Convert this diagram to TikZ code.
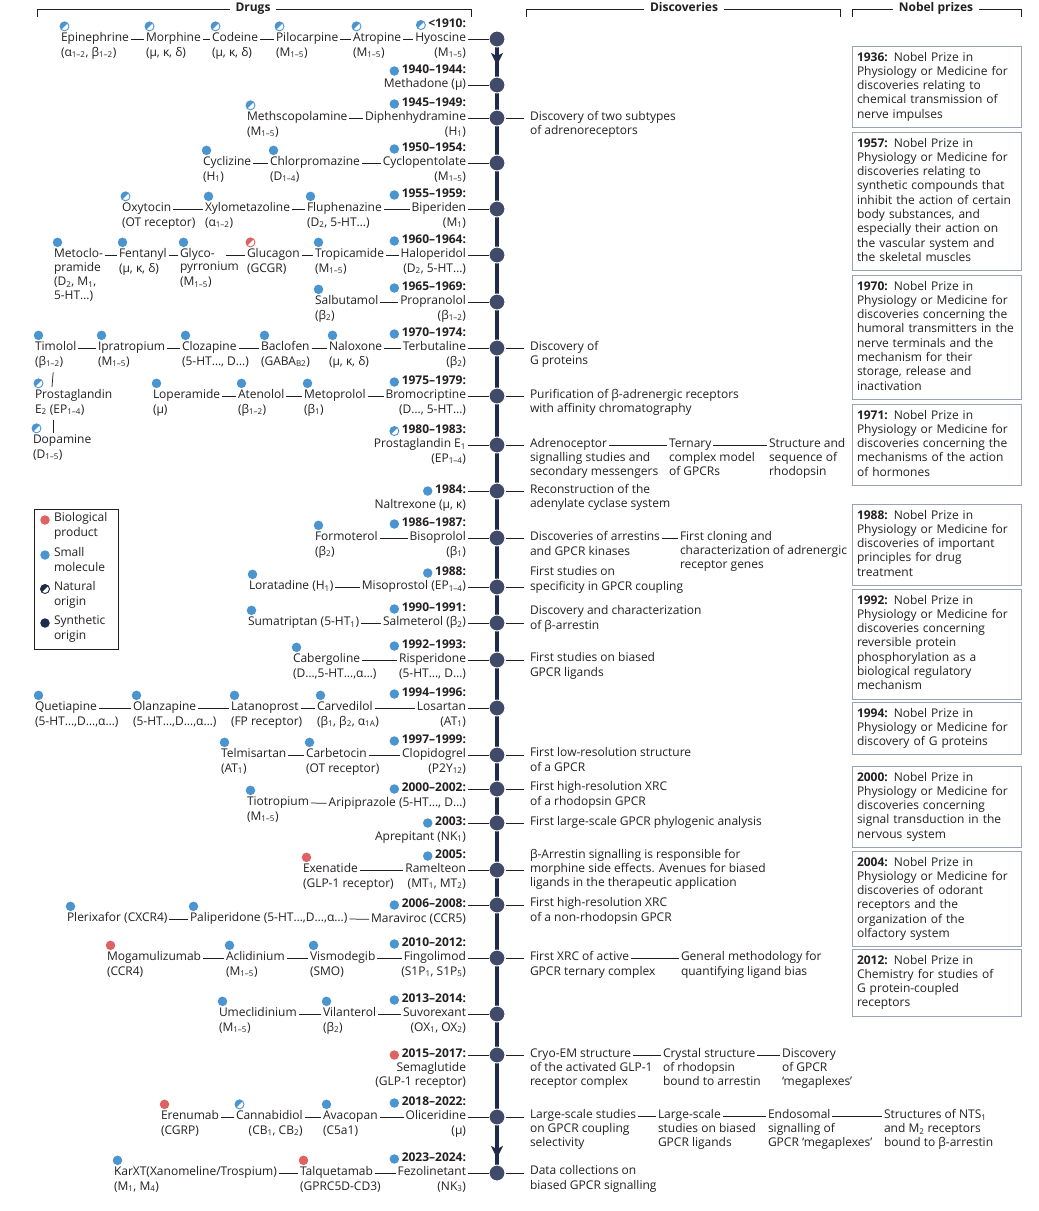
\documentclass[tikz,border=0pt]{standalone}
\usepackage{fontspec}
\setmainfont{Open Sans}
\usepackage{tikz}
\usetikzlibrary{arrows.meta,positioning,calc,backgrounds}
\definecolor{Ink}{HTML}{231F20}
\definecolor{Navy}{HTML}{1E2B4A}
\definecolor{EraDot}{HTML}{3F4B68}
\definecolor{SmallBlue}{HTML}{4A94D0}
\definecolor{BioRed}{HTML}{DE6262}
\definecolor{BoxLine}{HTML}{9AA3B4}
\newcommand{\figfont}{\fontsize{12}{14.3}\selectfont}
\newcommand{\rsub}[1]{\textsubscript{#1}}
\tikzset{
  txt/.style={font=\figfont,text=Ink,inner sep=0pt,outer sep=0pt,execute at begin node=\strut,execute at end node=\strut},
  drug/.style={txt,anchor=west},
  maindrug/.style={txt,anchor=east},
  rec/.style={txt,anchor=north west,align=left},
  recr/.style={txt,anchor=north east,align=right},
  yr/.style={txt,font=\figfont\bfseries,anchor=east},
  disc/.style={txt,align=left,anchor=north west,yshift=7.15pt},
  head/.style={txt,font=\figfont\bfseries,inner xsep=6pt},
  sm/.style={circle,fill=SmallBlue,minimum size=9.5pt,inner sep=0pt},
  bio/.style={circle,fill=BioRed,minimum size=9.5pt,inner sep=0pt},
  syn/.style={circle,fill=Navy,minimum size=9.5pt,inner sep=0pt},
  nat/.style={circle,draw=#1,fill=white,line width=0.9pt,minimum size=9pt,inner sep=0pt,
    path picture={\fill[#1] (path picture bounding box.south west) -- (path picture bounding box.north west) -- (path picture bounding box.north east) -- cycle;}},
  nat/.default=SmallBlue,
  era/.style={circle,fill=EraDot,draw=white,line width=1pt,minimum size=16pt,inner sep=0pt},
  link/.style={draw=Ink,line width=0.75pt,shorten <=2pt,shorten >=2pt},
  tolink/.style={draw=Ink,line width=0.75pt,shorten <=2pt},
  fromlink/.style={draw=Ink,line width=0.75pt,shorten >=6pt},
  vlink/.style={draw=Ink,line width=0.75pt,shorten <=3pt},
  timeline/.style={draw=Navy,line width=4pt},
  tip/.style={timeline,-{Stealth[length=12pt,width=12pt,inset=3pt]}},
  nobel/.style={txt,draw=BoxLine,line width=1pt,align=left,text width=159pt,inner xsep=5pt,inner ysep=5pt,anchor=north west},
  bracket/.style={draw=Ink,line width=0.8pt}
}

\begin{document}
\begin{tikzpicture}[x=1pt,y=-1pt]
\useasboundingbox (0,0) rectangle (1039,1211);

\node[head] (hDrugs) at (253,9) {Drugs};
\node[head] (hDisc) at (684,9) {Discoveries};
\node[head] (hNobel) at (936,9) {Nobel prizes};
\draw[bracket] (hDrugs.west) -| (37,17);\draw[bracket] (hDrugs.east) -| (471,17);
\draw[bracket] (hDisc.west) -| (526,17);\draw[bracket] (hDisc.east) -| (840,17);
\draw[bracket] (hNobel.west) -| (852,17);\draw[bracket] (hNobel.east) -| (1021,17);

\node[era] (e1910) at (497,39) {};
\node[era] (e1940) at (497,85) {};
\node[era] (e1945) at (497,118) {};
\node[era] (e1950) at (497,163) {};
\node[era] (e1955) at (497,209) {};
\node[era] (e1960) at (497,255) {};
\node[era] (e1965) at (497,302) {};
\node[era] (e1970) at (497,348) {};
\node[era] (e1975) at (497,396) {};
\node[era] (e1980) at (497,445) {};
\node[era] (e1984) at (497,491) {};
\node[era] (e1986) at (497,538) {};
\node[era] (e1988) at (497,587) {};
\node[era] (e1990) at (497,623) {};
\node[era] (e1992) at (497,660) {};
\node[era] (e1994) at (497,708) {};
\node[era] (e1997) at (497,755) {};
\node[era] (e2000) at (497,789) {};
\node[era] (e2003) at (497,823) {};
\node[era] (e2005) at (497,870) {};
\node[era] (e2006) at (497,905) {};
\node[era] (e2010) at (497,958) {};
\node[era] (e2013) at (497,1014) {};
\node[era] (e2015) at (497,1055) {};
\node[era] (e2018) at (497,1117) {};
\node[era] (e2023) at (497,1173) {};
\coordinate (tipTop) at (497,65);
\coordinate (tipBot) at (497,1158);
\begin{scope}[on background layer]
\draw[timeline] (e1910.center) -- (e2023.center);
\draw[tip] (e1910.center) -- (tipTop);
\draw[tip] (e2018.center) -- (tipBot);
\end{scope}

\node[yr] (y1910) at (466,25) {<1910:};
\node[nat,left=2.5pt of y1910] (y1910i) {};
\node[maindrug] (hyo) at (466,39) {Hyoscine};
\node[recr] (hyoR) at (hyo.south east) {(M\rsub{1–5})};
\node[drug] (epi) at (61,39) {Epinephrine};
\node[rec] (epiR) at (epi.south west) {(α\rsub{1–2}, β\rsub{1–2})};
\node[nat,above=2pt of epi.north west,anchor=south west] (epiI) {};
\node[drug] (mor) at (146,39) {Morphine};
\node[rec] (morR) at (mor.south west) {(μ, κ, δ)};
\node[nat,above=2pt of mor.north west,anchor=south west] (morI) {};
\node[drug] (cod) at (212,39) {Codeine};
\node[rec] (codR) at (cod.south west) {(μ, κ, δ)};
\node[nat,above=2pt of cod.north west,anchor=south west] (codI) {};
\node[drug] (pilo) at (276,39) {Pilocarpine};
\node[rec] (piloR) at (pilo.south west) {(M\rsub{1–5})};
\node[nat,above=2pt of pilo.north west,anchor=south west] (piloI) {};
\node[drug] (atro) at (353,39) {Atropine};
\node[rec] (atroR) at (atro.south west) {(M\rsub{1–5})};
\node[nat,above=2pt of atro.north west,anchor=south west] (atroI) {};
\draw[link] (epi.east) -- (mor.west);\draw[link] (mor.east) -- (cod.west);\draw[link] (cod.east) -- (pilo.west);
\draw[link] (pilo.east) -- (atro.west);\draw[link] (atro.east) -- (hyo.west);\draw[tolink] (hyo.east) -- (e1910.west);

\node[yr] (y1940) at (466,71) {1940–1944:};
\node[sm,left=2.5pt of y1940] (y1940i) {};
\node[maindrug] (metha) at (466,85) {Methadone (μ)};
\draw[tolink] (metha.east) -- (e1940.west);

\node[yr] (y1945) at (466,104) {1945–1949:};
\node[sm,left=2.5pt of y1945] (y1945i) {};
\node[maindrug] (diph) at (466,118) {Diphenhydramine};
\node[recr] (diphR) at (diph.south east) {(H\rsub{1})};
\node[drug] (meths) at (247,118) {Methscopolamine};
\node[rec] (methsR) at (meths.south west) {(M\rsub{1–5})};
\node[nat,above=2pt of meths.north west,anchor=south west] (methsI) {};
\draw[link] (meths.east) -- (diph.west);\draw[tolink] (diph.east) -- (e1945.west);

\node[yr] (y1950) at (466,149) {1950–1954:};
\node[sm,left=2.5pt of y1950] (y1950i) {};
\node[maindrug] (cyclo) at (466,163) {Cyclopentolate};
\node[recr] (cycloR) at (cyclo.south east) {(M\rsub{1–5})};
\node[drug] (cycli) at (203,163) {Cyclizine};
\node[rec] (cycliR) at (cycli.south west) {(H\rsub{1})};
\node[sm,above=2pt of cycli.north west,anchor=south west] (cycliI) {};
\node[drug] (chlor) at (270,163) {Chlorpromazine};
\node[rec] (chlorR) at (chlor.south west) {(D\rsub{1–4})};
\node[sm,above=2pt of chlor.north west,anchor=south west] (chlorI) {};
\draw[link] (cycli.east) -- (chlor.west);\draw[link] (chlor.east) -- (cyclo.west);\draw[tolink] (cyclo.east) -- (e1950.west);

\node[yr] (y1955) at (466,195) {1955–1959:};
\node[sm,left=2.5pt of y1955] (y1955i) {};
\node[maindrug] (bip) at (466,209) {Biperiden};
\node[recr] (bipR) at (bip.south east) {(M\rsub{1})};
\node[drug] (oxy) at (122,209) {Oxytocin};
\node[rec] (oxyR) at (oxy.south west) {(OT receptor)};
\node[nat,above=2pt of oxy.north west,anchor=south west] (oxyI) {};
\node[drug] (xylo) at (205,209) {Xylometazoline};
\node[rec] (xyloR) at (xylo.south west) {(α\rsub{1–2})};
\node[sm,above=2pt of xylo.north west,anchor=south west] (xyloI) {};
\node[drug] (flu) at (307,209) {Fluphenazine};
\node[rec] (fluR) at (flu.south west) {(D\rsub{2}, 5-HT…)};
\node[sm,above=2pt of flu.north west,anchor=south west] (fluI) {};
\draw[link] (oxy.east) -- (xylo.west);\draw[link] (xylo.east) -- (flu.west);\draw[link] (flu.east) -- (bip.west);\draw[tolink] (bip.east) -- (e1955.west);

\node[yr] (y1960) at (466,241) {1960–1964:};
\node[sm,left=2.5pt of y1960] (y1960i) {};
\node[maindrug] (halo) at (466,255) {Haloperidol};
\node[recr] (haloR) at (halo.south east) {(D\rsub{2}, 5-HT…)};
\node[drug] (meto) at (54,255) {Metoclo-};
\node[rec] (metoR) at (meto.south west) {pramide\\(D\rsub{2}, M\rsub{1},\\5-HT…)};
\node[sm,above=2pt of meto.north west,anchor=south west] (metoI) {};
\node[drug] (fent) at (119,255) {Fentanyl};
\node[rec] (fentR) at (fent.south west) {(μ, κ, δ)};
\node[sm,above=2pt of fent.north west,anchor=south west] (fentI) {};
\node[drug] (glyco) at (180,255) {Glyco-};
\node[rec] (glycoR) at (glyco.south west) {pyrronium\\(M\rsub{1–5})};
\node[sm,above=2pt of glyco.north west,anchor=south west] (glycoI) {};
\node[drug] (gluc) at (247,255) {Glucagon};
\node[rec] (glucR) at (gluc.south west) {(GCGR)};
\node[nat=BioRed,above=2pt of gluc.north west,anchor=south west] (glucI) {};
\node[drug] (trop) at (315,255) {Tropicamide};
\node[rec] (tropR) at (trop.south west) {(M\rsub{1–5})};
\node[sm,above=2pt of trop.north west,anchor=south west] (tropI) {};
\draw[link] (meto.east) -- (fent.west);\draw[link] (fent.east) -- (glyco.west);\draw[link] ([xshift=9pt]glyco.east) -- (gluc.west);
\draw[link] (gluc.east) -- (trop.west);\draw[link] (trop.east) -- (halo.west);\draw[tolink] (halo.east) -- (e1960.west);

\node[yr] (y1965) at (466,288) {1965–1969:};
\node[sm,left=2.5pt of y1965] (y1965i) {};
\node[maindrug] (prop) at (466,302) {Propranolol};
\node[recr] (propR) at (prop.south east) {(β\rsub{1–2})};
\node[drug] (salb) at (315,302) {Salbutamol};
\node[rec] (salbR) at (salb.south west) {(β\rsub{2})};
\node[sm,above=2pt of salb.north west,anchor=south west] (salbI) {};
\draw[link] (salb.east) -- (prop.west);\draw[tolink] (prop.east) -- (e1965.west);

\node[yr] (y1970) at (466,334) {1970–1974:};
\node[sm,left=2.5pt of y1970] (y1970i) {};
\node[maindrug] (terb) at (466,348) {Terbutaline};
\node[recr] (terbR) at (terb.south east) {(β\rsub{2})};
\node[drug] (tim) at (35,348) {Timolol};
\node[rec] (timR) at (tim.south west) {(β\rsub{1–2})};
\node[sm,above=2pt of tim.north west,anchor=south west] (timI) {};
\node[drug] (ipra) at (98,348) {Ipratropium};
\node[rec] (ipraR) at (ipra.south west) {(M\rsub{1–5})};
\node[sm,above=2pt of ipra.north west,anchor=south west] (ipraI) {};
\node[drug] (cloz) at (182,348) {Clozapine};
\node[rec] (clozR) at (cloz.south west) {(5-HT…, D…)};
\node[sm,above=2pt of cloz.north west,anchor=south west] (clozI) {};
\node[drug] (bac) at (261,348) {Baclofen};
\node[rec] (bacR) at (bac.south west) {(GABA\rsub{B2})};
\node[sm,above=2pt of bac.north west,anchor=south west] (bacI) {};
\node[drug] (nal) at (329,348) {Naloxone};
\node[rec] (nalR) at (nal.south west) {(μ, κ, δ)};
\node[sm,above=2pt of nal.north west,anchor=south west] (nalI) {};
\draw[link] (tim.east) -- (ipra.west);\draw[link] (ipra.east) -- (cloz.west);\draw[link] (cloz.east) -- (bac.west);
\draw[link] (bac.east) -- (nal.west);\draw[link] (nal.east) -- (terb.west);\draw[tolink] (terb.east) -- (e1970.west);

\node[yr] (y1975) at (466,382) {1975–1979:};
\node[sm,left=2.5pt of y1975] (y1975i) {};
\node[maindrug] (bromo) at (466,396) {Bromocriptine};
\node[recr] (bromoR) at (bromo.south east) {(D…, 5-HT…)};
\node[drug] (pge2) at (35,396) {Prostaglandin};
\node[rec] (pge2R) at (pge2.south west) {E\rsub{2} (EP\rsub{1–4})};
\node[nat,above=2pt of pge2.north west,anchor=south west] (pge2I) {};
\node[drug] (lop) at (153,396) {Loperamide};
\node[rec] (lopR) at (lop.south west) {(μ)};
\node[sm,above=2pt of lop.north west,anchor=south west] (lopI) {};
\node[drug] (aten) at (238,396) {Atenolol};
\node[rec] (atenR) at (aten.south west) {(β\rsub{1–2})};
\node[sm,above=2pt of aten.north west,anchor=south west] (atenI) {};
\node[drug] (metop) at (304,396) {Metoprolol};
\node[rec] (metopR) at (metop.south west) {(β\rsub{1})};
\node[sm,above=2pt of metop.north west,anchor=south west] (metopI) {};
\draw[link] (lop.east) -- (aten.west);\draw[link] (aten.east) -- (metop.west);\draw[link] (metop.east) -- (bromo.west);\draw[tolink] (bromo.east) -- (e1975.west);
\node[drug] (dopa) at (33,441) {Dopamine};
\node[rec] (dopaR) at (dopa.south west) {(D\rsub{1–5})};
\node[nat,above=2pt of dopa.north west,anchor=south west] (dopaI) {};
\draw[vlink] ([xshift=10pt]pge2I.east |- timR.south) -- ([xshift=10pt]pge2I.south east);
\draw[vlink] ([xshift=10pt]pge2I.east |- pge2R.south) -- ([xshift=10pt]pge2I.east |- dopaI.south);

\node[yr] (y1980) at (466,431) {1980–1983:};
\node[nat,left=2.5pt of y1980] (y1980i) {};
\node[maindrug] (pge1) at (466,445) {Prostaglandin E\rsub{1}};
\node[recr] (pge1R) at (pge1.south east) {(EP\rsub{1–4})};
\draw[tolink] (pge1.east) -- (e1980.west);

\node[yr] (y1984) at (466,491) {1984:};
\node[sm,left=2.5pt of y1984] (y1984i) {};
\node[recr] (nalt) at (y1984.south east) {Naltrexone (μ, κ)};
\draw[tolink] (y1984.east) -- (e1984.west);

\node[yr] (y1986) at (466,524) {1986–1987:};
\node[sm,left=2.5pt of y1986] (y1986i) {};
\node[maindrug] (biso) at (466,538) {Bisoprolol};
\node[recr] (bisoR) at (biso.south east) {(β\rsub{1})};
\node[drug] (form) at (315,538) {Formoterol};
\node[rec] (formR) at (form.south west) {(β\rsub{2})};
\node[sm,above=2pt of form.north west,anchor=south west] (formI) {};
\draw[link] (form.east) -- (biso.west);\draw[tolink] (biso.east) -- (e1986.west);

\node[yr] (y1988) at (466,573) {1988:};
\node[sm,left=2.5pt of y1988] (y1988i) {};
\node[maindrug] (miso) at (466,587) {Misoprostol (EP\rsub{1–4})};
\node[drug] (lora) at (249,587) {Loratadine (H\rsub{1})};
\node[sm,above=2pt of lora.north west,anchor=south west] (loraI) {};
\draw[link] (lora.east) -- (miso.west);\draw[tolink] (miso.east) -- (e1988.west);

\node[yr] (y1990) at (466,609) {1990–1991:};
\node[sm,left=2.5pt of y1990] (y1990i) {};
\node[maindrug] (salm) at (466,623) {Salmeterol (β\rsub{2})};
\node[drug] (suma) at (248,623) {Sumatriptan (5-HT\rsub{1})};
\node[sm,above=2pt of suma.north west,anchor=south west] (sumaI) {};
\draw[link] (suma.east) -- (salm.west);\draw[tolink] (salm.east) -- (e1990.west);

\node[yr] (y1992) at (466,646) {1992–1993:};
\node[sm,left=2.5pt of y1992] (y1992i) {};
\node[maindrug] (risp) at (466,660) {Risperidone};
\node[recr] (rispR) at (risp.south east) {(5-HT…, D…)};
\node[drug] (cab) at (293,660) {Cabergoline};
\node[rec] (cabR) at (cab.south west) {(D…,5-HT…,α…)};
\node[sm,above=2pt of cab.north west,anchor=south west] (cabI) {};
\draw[link] (cab.east) -- (risp.west);\draw[tolink] (risp.east) -- (e1992.west);

\node[yr] (y1994) at (466,694) {1994–1996:};
\node[sm,left=2.5pt of y1994] (y1994i) {};
\node[maindrug] (los) at (466,708) {Losartan};
\node[recr] (losR) at (los.south east) {(AT\rsub{1})};
\node[drug] (quet) at (35,708) {Quetiapine};
\node[rec] (quetR) at (quet.south west) {(5-HT…,D…,α…)};
\node[sm,above=2pt of quet.north west,anchor=south west] (quetI) {};
\node[drug] (olan) at (133,708) {Olanzapine};
\node[rec] (olanR) at (olan.south west) {(5-HT…,D…,α…)};
\node[sm,above=2pt of olan.north west,anchor=south west] (olanI) {};
\node[drug] (lat) at (231,708) {Latanoprost};
\node[rec] (latR) at (lat.south west) {(FP receptor)};
\node[sm,above=2pt of lat.north west,anchor=south west] (latI) {};
\node[drug] (carv) at (317,708) {Carvedilol};
\node[rec] (carvR) at (carv.south west) {(β\rsub{1}, β\rsub{2}, α\rsub{1A})};
\node[sm,above=2pt of carv.north west,anchor=south west] (carvI) {};
\draw[link] (quet.east) -- (olan.west);\draw[link] (olan.east) -- (lat.west);\draw[link] (lat.east) -- (carv.west);
\draw[link] (carv.east) -- (los.west);\draw[tolink] (los.east) -- (e1994.west);

\node[yr] (y1997) at (466,741) {1997–1999:};
\node[sm,left=2.5pt of y1997] (y1997i) {};
\node[maindrug] (clop) at (466,755) {Clopidogrel};
\node[recr] (clopR) at (clop.south east) {(P2Y\rsub{12})};
\node[drug] (telm) at (221,755) {Telmisartan};
\node[rec] (telmR) at (telm.south west) {(AT\rsub{1})};
\node[sm,above=2pt of telm.north west,anchor=south west] (telmI) {};
\node[drug] (carb) at (306,755) {Carbetocin};
\node[rec] (carbR) at (carb.south west) {(OT receptor)};
\node[sm,above=2pt of carb.north west,anchor=south west] (carbI) {};
\draw[link] (telm.east) -- (carb.west);\draw[link] (carb.east) -- (clop.west);\draw[tolink] (clop.east) -- (e1997.west);

\node[yr] (y2000) at (466,789) {2000–2002:};
\node[sm,left=2.5pt of y2000] (y2000i) {};
\node[recr] (ari) at (y2000.south east) {Aripiprazole (5-HT…, D…)};
\node[drug] (tio) at (247,803) {Tiotropium};
\node[rec] (tioR) at (tio.south west) {(M\rsub{1–5})};
\node[sm,above=2pt of tio.north west,anchor=south west] (tioI) {};
\draw[link] (tio.east) -- (ari.west);\draw[tolink] (y2000.east) -- (e2000.west);

\node[yr] (y2003) at (466,823) {2003:};
\node[sm,left=2.5pt of y2003] (y2003i) {};
\node[recr] (apre) at (y2003.south east) {Aprepitant (NK\rsub{1})};
\draw[tolink] (y2003.east) -- (e2003.west);

\node[yr] (y2005) at (466,856) {2005:};
\node[sm,left=2.5pt of y2005] (y2005i) {};
\node[maindrug] (ram) at (466,870) {Ramelteon};
\node[recr] (ramR) at (ram.south east) {(MT\rsub{1}, MT\rsub{2})};
\node[drug] (exe) at (303,870) {Exenatide};
\node[rec] (exeR) at (exe.south west) {(GLP-1 receptor)};
\node[bio,above=2pt of exe.north west,anchor=south west] (exeI) {};
\draw[link] (exe.east) -- (ram.west);\draw[tolink] (ram.east) -- (e2005.west);

\node[yr] (y2006) at (466,905) {2006–2008:};
\node[sm,left=2.5pt of y2006] (y2006i) {};
\node[recr] (mara) at (y2006.south east) {Maraviroc (CCR5)};
\node[drug] (pler) at (67,919) {Plerixafor (CXCR4)};
\node[sm,above=2pt of pler.north west,anchor=south west] (plerI) {};
\node[drug] (pali) at (190,919) {Paliperidone (5-HT…,D…,α…)};
\node[sm,above=2pt of pali.north west,anchor=south west] (paliI) {};
\draw[link] (pler.east) -- (pali.west);\draw[link] (pali.east) -- (mara.west);\draw[tolink] (y2006.east) -- (e2006.west);

\node[yr] (y2010) at (466,944) {2010–2012:};
\node[sm,left=2.5pt of y2010] (y2010i) {};
\node[maindrug] (fing) at (466,958) {Fingolimod};
\node[recr] (fingR) at (fing.south east) {(S1P\rsub{1}, S1P\rsub{5})};
\node[drug] (mog) at (107,958) {Mogamulizumab};
\node[rec] (mogR) at (mog.south west) {(CCR4)};
\node[bio,above=2pt of mog.north west,anchor=south west] (mogI) {};
\node[drug] (acl) at (226,958) {Aclidinium};
\node[rec] (aclR) at (acl.south west) {(M\rsub{1–5})};
\node[sm,above=2pt of acl.north west,anchor=south west] (aclI) {};
\node[drug] (vis) at (310,958) {Vismodegib};
\node[rec] (visR) at (vis.south west) {(SMO)};
\node[sm,above=2pt of vis.north west,anchor=south west] (visI) {};
\draw[link] (mog.east) -- (acl.west);\draw[link] (acl.east) -- (vis.west);\draw[link] (vis.east) -- (fing.west);\draw[tolink] (fing.east) -- (e2010.west);

\node[yr] (y2013) at (466,1000) {2013–2014:};
\node[sm,left=2.5pt of y2013] (y2013i) {};
\node[maindrug] (suv) at (466,1014) {Suvorexant};
\node[recr] (suvR) at (suv.south east) {(OX\rsub{1}, OX\rsub{2})};
\node[drug] (ume) at (219,1014) {Umeclidinium};
\node[rec] (umeR) at (ume.south west) {(M\rsub{1–5})};
\node[sm,above=2pt of ume.north west,anchor=south west] (umeI) {};
\node[drug] (vil) at (323,1014) {Vilanterol};
\node[rec] (vilR) at (vil.south west) {(β\rsub{2})};
\node[sm,above=2pt of vil.north west,anchor=south west] (vilI) {};
\draw[link] (ume.east) -- (vil.west);\draw[link] (vil.east) -- (suv.west);\draw[tolink] (suv.east) -- (e2013.west);

\node[yr] (y2015) at (466,1055) {2015–2017:};
\node[bio,left=2.5pt of y2015] (y2015i) {};
\node[recr] (sema) at (y2015.south east) {Semaglutide\\(GLP-1 receptor)};
\draw[tolink] (y2015.east) -- (e2015.west);

\node[yr] (y2018) at (466,1103) {2018–2022:};
\node[sm,left=2.5pt of y2018] (y2018i) {};
\node[maindrug] (oli) at (466,1117) {Oliceridine};
\node[recr] (oliR) at (oli.south east) {(μ)};
\node[drug] (ere) at (161,1117) {Erenumab};
\node[rec] (ereR) at (ere.south west) {(CGRP)};
\node[bio,above=2pt of ere.north west,anchor=south west] (ereI) {};
\node[drug] (can) at (236,1117) {Cannabidiol};
\node[recr] (canR) at (can.south east) {(CB\rsub{1}, CB\rsub{2})};
\node[nat,above=2pt of can.north west,anchor=south west] (canI) {};
\node[drug] (ava) at (323,1117) {Avacopan};
\node[rec] (avaR) at (ava.south west) {(C5a1)};
\node[sm,above=2pt of ava.north west,anchor=south west] (avaI) {};
\draw[link] (ere.east) -- (can.west);\draw[link] (can.east) -- (ava.west);\draw[link] (ava.east) -- (oli.west);\draw[tolink] (oli.east) -- (e2018.west);

\node[yr] (y2023) at (466,1159) {2023–2024:};
\node[sm,left=2.5pt of y2023] (y2023i) {};
\node[maindrug] (fez) at (466,1173) {Fezolinetant};
\node[recr] (fezR) at (fez.south east) {(NK\rsub{3})};
\node[drug] (kar) at (114,1173) {KarXT(Xanomeline/Trospium)};
\node[rec] (karR) at (kar.south west) {(M\rsub{1}, M\rsub{4})};
\node[sm,above=2pt of kar.north west,anchor=south west] (karI) {};
\node[drug] (tal) at (300,1173) {Talquetamab};
\node[rec] (talR) at (tal.south west) {(GPRC5D-CD3)};
\node[bio,above=2pt of tal.north west,anchor=south west] (talI) {};
\draw[link] (kar.east) -- (tal.west);\draw[link] (tal.east) -- (fez.west);\draw[tolink] (fez.east) -- (e2023.west);

\node[draw=Ink,line width=0.8pt,minimum width=84pt,minimum height=140pt,anchor=north west,inner sep=0pt] (legend) at (34,509) {};
\node[bio] (lgBio) at (45,520) {};
\node[disc] (lgBioT) at (54,520) {Biological\\product};
\node[sm] (lgSm) at (45,555) {};
\node[disc] (lgSmT) at (54,555) {Small\\molecule};
\node[nat=Navy] (lgNat) at (45,589) {};
\node[disc] (lgNatT) at (54,589) {Natural\\origin};
\node[syn] (lgSyn) at (45,623) {};
\node[disc] (lgSynT) at (54,623) {Synthetic\\origin};

\node[disc] (dSub) at (530,118) {Discovery of two subtypes\\of adrenoreceptors};
\draw[fromlink] (e1945.east) -- (e1945.east -| dSub.west);
\node[disc] (dGp) at (530,348) {Discovery of\\G proteins};
\draw[fromlink] (e1970.east) -- (e1970.east -| dGp.west);
\node[disc] (dPur) at (530,396) {Purification of β-adrenergic receptors\\with affinity chromatography};
\draw[fromlink] (e1975.east) -- (e1975.east -| dPur.west);
\node[drug] (dAdr) at (530,445) {Adrenoceptor};
\node[rec] (dAdr2) at (dAdr.south west) {signalling studies and\\secondary messengers};
\node[drug] (dTer) at (669,445) {Ternary};
\node[rec] (dTer2) at (dTer.south west) {complex model\\of GPCRs};
\node[drug] (dStr) at (769,445) {Structure and};
\node[rec] (dStr2) at (dStr.south west) {sequence of\\rhodopsin};
\draw[fromlink] (e1980.east) -- (dAdr.west);\draw[link] (dAdr.east) -- (dTer.west);\draw[link] (dTer.east) -- (dStr.west);
\node[disc] (dRec) at (530,491) {Reconstruction of the\\adenylate cyclase system};
\draw[fromlink] (e1984.east) -- (e1984.east -| dRec.west);
\node[drug] (dArr) at (530,538) {Discoveries of arrestins};
\node[rec] (dArr2) at (dArr.south west) {and GPCR kinases};
\node[drug] (dClo) at (680,538) {First cloning and};
\node[rec] (dClo2) at (dClo.south west) {characterization of adrenergic\\receptor genes};
\draw[fromlink] (e1986.east) -- (dArr.west);\draw[link] (dArr.east) -- (dClo.west);
\node[disc] (dSpec) at (530,574) {First studies on\\specificity in GPCR coupling};
\draw[fromlink] (e1988.east) -- (e1988.east -| dSpec.west);
\node[disc] (dBarr) at (530,613) {Discovery and characterization\\of β-arrestin};
\draw[fromlink] (e1990.east) -- (e1990.east -| dBarr.west);
\node[disc] (dBias) at (530,660) {First studies on biased\\GPCR ligands};
\draw[fromlink] (e1992.east) -- (e1992.east -| dBias.west);
\node[disc] (dLow) at (530,755) {First low-resolution structure\\of a GPCR};
\draw[fromlink] (e1997.east) -- (e1997.east -| dLow.west);
\node[disc] (dHigh) at (530,789) {First high-resolution XRC\\of a rhodopsin GPCR};
\draw[fromlink] (e2000.east) -- (e2000.east -| dHigh.west);
\node[disc] (dPhy) at (530,823) {First large-scale GPCR phylogenic analysis};
\draw[fromlink] (e2003.east) -- (e2003.east -| dPhy.west);
\node[disc] (dMor) at (530,856) {β-Arrestin signalling is responsible for\\morphine side effects. Avenues for biased\\ligands in the therapeutic application};
\draw[fromlink] (e2005.east) -- (e2005.east -| dMor.west);
\node[disc] (dNon) at (530,905) {First high-resolution XRC\\of a non-rhodopsin GPCR};
\draw[fromlink] (e2006.east) -- (e2006.east -| dNon.west);
\node[drug] (dXrc) at (530,958) {First XRC of active};
\node[rec] (dXrc2) at (dXrc.south west) {GPCR ternary complex};
\node[drug] (dGen) at (681,958) {General methodology for};
\node[rec] (dGen2) at (dGen.south west) {quantifying ligand bias};
\draw[fromlink] (e2010.east) -- (dXrc.west);\draw[link] (dXrc.east) -- (dGen.west);
\node[drug] (dCryo) at (530,1055) {Cryo-EM structure};
\node[rec] (dCryo2) at (dCryo.south west) {of the activated GLP-1\\receptor complex};
\node[drug] (dCry) at (663,1055) {Crystal structure};
\node[rec] (dCry2) at (dCry.south west) {of rhodopsin\\bound to arrestin};
\node[drug] (dMeg) at (782,1055) {Discovery};
\node[rec] (dMeg2) at (dMeg.south west) {of GPCR\\‘megaplexes’};
\draw[fromlink] (e2015.east) -- (dCryo.west);\draw[link] (dCryo.east) -- (dCry.west);\draw[link] (dCry.east) -- (dMeg.west);
\node[drug] (dLs) at (530,1116) {Large-scale studies};
\node[rec] (dLs2) at (dLs.south west) {on GPCR coupling\\selectivity};
\node[drug] (dLb) at (658,1116) {Large-scale};
\node[rec] (dLb2) at (dLb.south west) {studies on biased\\GPCR ligands};
\node[drug] (dEnd) at (768,1116) {Endosomal};
\node[rec] (dEnd2) at (dEnd.south west) {signalling of\\GPCR ‘megaplexes’};
\node[drug] (dNts) at (884,1116) {Structures of NTS\rsub{1}};
\node[rec] (dNts2) at (dNts.south west) {and M\rsub{2} receptors\\bound to β-arrestin};
\draw[fromlink] (e2018.east) -- (e2018.east -| dLs.west);\draw[link] (dLs.east) -- (dLb.west);\draw[link] (dLb.east) -- (dEnd.west);\draw[link] (dEnd.east) -- (dNts.west);
\node[disc] (dData) at (530,1173) {Data collections on\\biased GPCR signalling};
\draw[fromlink] (e2023.east) -- (e2023.east -| dData.west);

\node[nobel] (nb1936) at (852,46) {\textbf{1936:} Nobel Prize in\\Physiology or Medicine for\\discoveries relating to\\chemical transmission of\\nerve impulses};
\node[nobel] (nb1957) at (852,132) {\textbf{1957:} Nobel Prize in\\Physiology or Medicine for\\discoveries relating to\\synthetic compounds that\\inhibit the action of certain\\body substances, and\\especially their action on\\the vascular system and\\the skeletal muscles};
\node[nobel] (nb1970) at (852,275) {\textbf{1970:} Nobel Prize in\\Physiology or Medicine for\\discoveries concerning the\\humoral transmitters in the\\nerve terminals and the\\mechanism for their\\storage, release and\\inactivation};
\node[nobel] (nb1971) at (852,404) {\textbf{1971:} Nobel Prize in\\Physiology or Medicine for\\discoveries concerning the\\mechanisms of the action\\of hormones};
\node[nobel] (nb1988) at (852,504) {\textbf{1988:} Nobel Prize in\\Physiology or Medicine for\\discoveries of important\\principles for drug\\treatment};
\node[nobel] (nb1992) at (852,589) {\textbf{1992:} Nobel Prize in\\Physiology or Medicine for\\discoveries concerning\\reversible protein\\phosphorylation as a\\biological regulatory\\mechanism};
\node[nobel] (nb1994) at (852,702) {\textbf{1994:} Nobel Prize in\\Physiology or Medicine for\\discovery of G proteins};
\node[nobel] (nb2000) at (852,766) {\textbf{2000:} Nobel Prize in\\Physiology or Medicine for\\discoveries concerning\\signal transduction in the\\nervous system};
\node[nobel] (nb2004) at (852,851) {\textbf{2004:} Nobel Prize in\\Physiology or Medicine for\\discoveries of odorant\\receptors and the\\organization of the\\olfactory system};
\node[nobel] (nb2012) at (852,949) {\textbf{2012:} Nobel Prize in\\Chemistry for studies of\\G protein-coupled\\receptors};
\end{tikzpicture}
\end{document}
